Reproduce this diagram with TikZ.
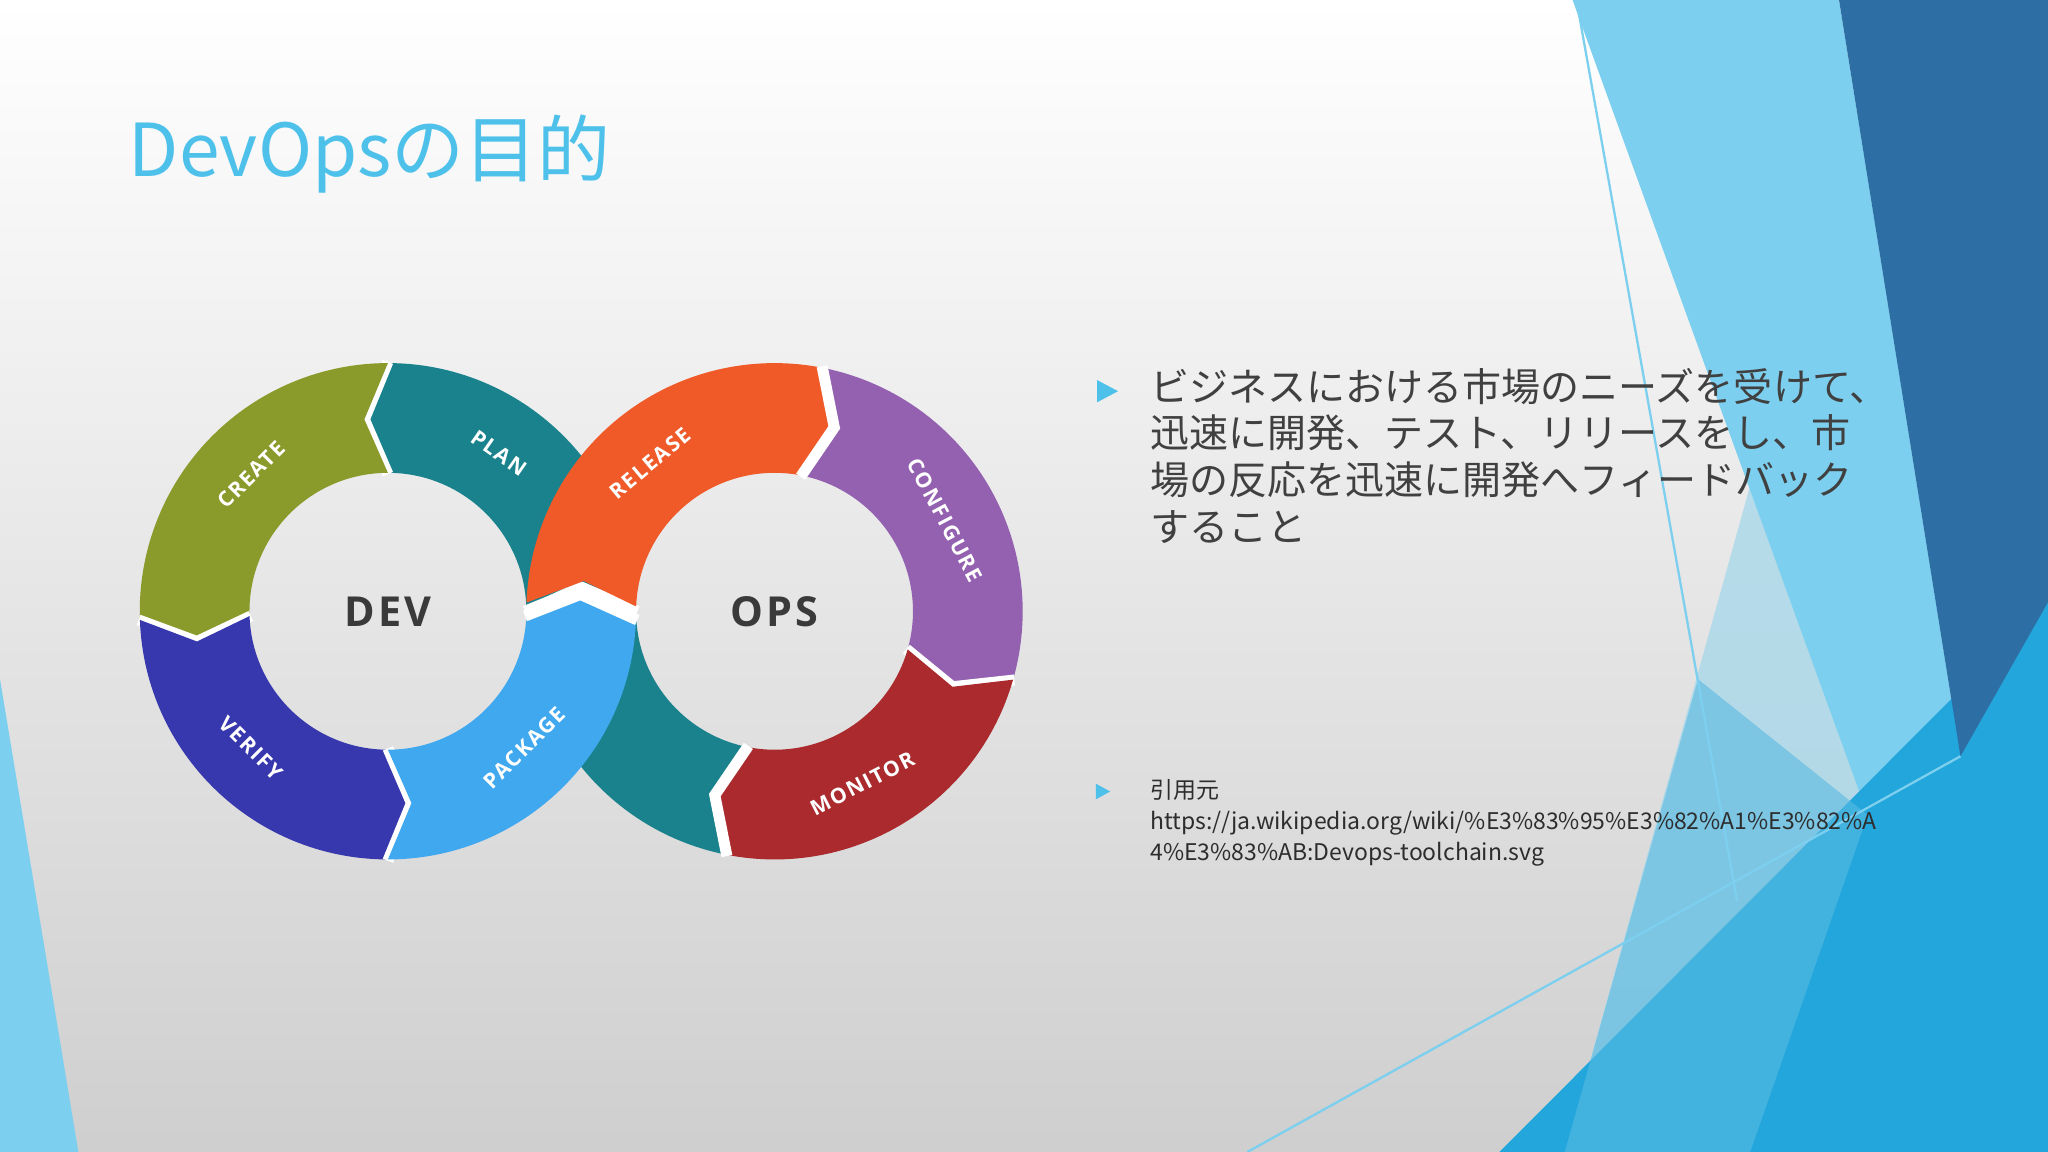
\documentclass[tikz,border=0pt]{standalone}
\usepackage{fontspec}
\setmainfont{Noto Sans CJK JP}
\setsansfont{Open Sans}
\newfontfamily\lbl[LetterSpace=8]{Open Sans}
\usetikzlibrary{calc}
\definecolor{olive}{HTML}{8A9A2B}
\definecolor{tealc}{HTML}{19828C}
\definecolor{dblue}{HTML}{3838AE}
\definecolor{lblue}{HTML}{40A8EF}
\definecolor{orng}{HTML}{F05A28}
\definecolor{purp}{HTML}{9361B0}
\definecolor{redc}{HTML}{AA2A2D}
\definecolor{ttl}{HTML}{4EC1EA}
\definecolor{cyanl}{HTML}{7CCFEE}
\definecolor{darkb}{HTML}{2D6FA5}
\definecolor{brightb}{HTML}{23A6DC}
\definecolor{paleb}{HTML}{A9D8EA}
\definecolor{txt}{HTML}{404040}
\newcommand\seg[6]{%
  \fill[#6]
    ($(#1,#2)+(#3:190)$) arc[start angle=#3,end angle=#4,radius=190]
    -- ($(#1,#2)+({#4+#5}:148)$) -- ($(#1,#2)+(#4:106)$)
    arc[start angle=#4,end angle=#3,radius=106]
    -- ($(#1,#2)+({#3+#5}:148)$) -- cycle;
  \draw[white,line width=2.4pt,line join=miter]
    ($(#1,#2)+(#4:191)$) -- ($(#1,#2)+({#4+#5}:148)$) -- ($(#1,#2)+(#4:105)$);}
\tikzset{lab/.style={text=white,font=\lbl\fontsize{4.6}{5}\selectfont\bfseries,inner sep=0},
  hub/.style={text=txt!90!black,font=\lbl\fontsize{9}{10}\selectfont\bfseries,inner sep=0},
  bul/.style={fill=ttl}}
\begin{document}
\begin{tikzpicture}[x=0.01cm,y=-0.01cm]
\useasboundingbox (0,0) rectangle (1568,882);
\clip (0,0) rectangle (1568,882);
\shade[top color=white,bottom color=black!19!white] (0,0) rectangle (1568,882);
% background polygons
\fill[paleb,opacity=0.8] (1420,84) -- (1198,882) -- (1568,882) -- (1568,300) -- cycle;
\fill[cyanl] (1204,0) -- (1408,0) -- (1501,579) -- (1430,624) -- cycle;
\fill[brightb] (1148,882) -- (1568,461) -- (1568,882) -- cycle;
\fill[brightb!60!paleb,opacity=0.6] (1198,882) -- (1300,520) -- (1430,624) -- (1340,882) -- cycle;
\fill[darkb] (1408,0) -- (1568,0) -- (1568,461) -- (1501,579) -- cycle;
\draw[cyanl,line width=0.5pt] (1207,0) -- (1330,690);
\draw[cyanl,line width=0.5pt] (955,882) -- (1501,579);
\fill[cyanl] (0,520) -- (60,882) -- (0,882) -- cycle;
% title
\node[anchor=base west,inner sep=0,text=ttl,font=\fontsize{15.9}{18}\selectfont] (title) at (98,135) {DevOpsの目的};
% rings
\seg{297}{468}{358}{270}{-7}{tealc}
\seg{593}{468}{101}{180}{7}{tealc}
\seg{297}{468}{270}{178}{-7}{olive}
\seg{297}{468}{178}{90}{-7}{dblue}
\seg{593}{468}{281}{376}{7}{purp}
\seg{593}{468}{376}{461}{7}{redc}
\seg{593}{468}{182}{281}{7}{orng}
\seg{297}{468}{90}{2}{-7}{lblue}
% labels
\node[lab,rotate=45] (create) at ($(297,468)+(225:148)$) {CREATE};
\node[lab,rotate=-35] (plan) at ($(297,468)+(305:148)$) {PLAN};
\node[lab,rotate=-45] (verify) at ($(297,468)+(135:148)$) {VERIFY};
\node[lab,rotate=45] (package) at ($(297,468)+(45:148)$) {PACKAGE};
\node[lab,rotate=40] (release) at ($(593,468)+(230:148)$) {RELEASE};
\node[lab,rotate=-62] (configure) at ($(593,468)+(332:148)$) {CONFIGURE};
\node[lab,rotate=27] (monitor) at ($(593,468)+(63:148)$) {MONITOR};
\node[hub] (dev) at (297,468) {DEV};
\node[hub] (ops) at (593,468) {OPS};
% bullets
\fill[bul] (840,291) -- (856,299.5) -- (840,308) -- cycle;
\fill[bul] (839,600) -- (850,606) -- (839,612) -- cycle;
\node[anchor=north west,inner sep=0,align=left,text=txt,font=\fontsize{8.5}{10.2}\selectfont] (body) at (880,281)
 {ビジネスにおける市場のニーズを受けて、\\迅速に開発、テスト、リリースをし、市\\場の反応を迅速に開発へフィードバック\\すること};
\node[anchor=north west,inner sep=0,align=left,text=txt!70!black,font=\fontsize{5.0}{6.8}\selectfont] (cite) at (880,596)
 {引用元\\https://ja.wikipedia.org/wiki/\%E3\%83\%95\%E3\%82\%A1\%E3\%82\%A\\4\%E3\%83\%AB:Devops-toolchain.svg};
\end{tikzpicture}
\end{document}
